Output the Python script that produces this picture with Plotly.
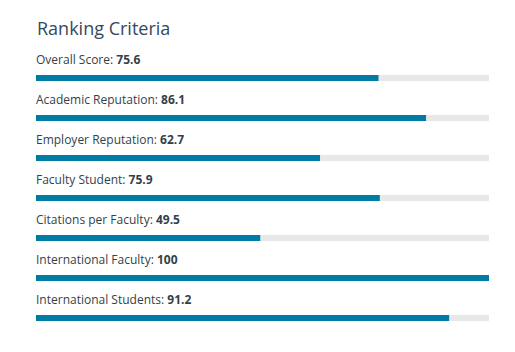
import plotly.graph_objects as go

criteria = ["Overall Score", "Academic Reputation", "Employer Reputation",
            "Faculty Student", "Citations per Faculty", "International Faculty",
            "International Students"]
scores = [75.6, 86.1, 62.7, 75.9, 49.5, 100, 91.2]
score_labels = ["75.6", "86.1", "62.7", "75.9", "49.5", "100", "91.2"]
max_score = 100

pos = list(range(len(criteria)))

fig = go.Figure()
fig.add_trace(go.Bar(x=[max_score] * len(criteria), y=pos, orientation="h",
                     marker=dict(color="#e8e8e8", line=dict(width=0)),
                     width=0.15, hoverinfo="skip"))
fig.add_trace(go.Bar(x=scores, y=pos, orientation="h",
                     marker=dict(color="#007ba3", line=dict(width=0)),
                     width=0.15))

annotations = [dict(text="Ranking Criteria", x=0, y=-1.25, xref="x", yref="y",
                    xanchor="left", yanchor="middle", showarrow=False, xshift=-1,
                    font=dict(family="Open Sans", size=18, color="#34495e"))]
for i, (c, s) in enumerate(zip(criteria, score_labels)):
    annotations.append(dict(text=f"{c}: <b>{s}</b>", x=0, y=i - 0.475, xref="x", yref="y",
                            xanchor="left", yanchor="middle", showarrow=False, xshift=-2,
                            font=dict(family="Open Sans", size=12, color="#333f4c")))

fig.update_layout(
    width=515, height=352, margin=dict(l=36, r=26, t=0, b=0),
    barmode="overlay", showlegend=False,
    plot_bgcolor="white", paper_bgcolor="white",
    xaxis=dict(range=[0, 100], visible=False, fixedrange=True),
    yaxis=dict(range=[6.85, -1.95], visible=False, fixedrange=True),
    annotations=annotations,
)
fig.write_html("out.html")
